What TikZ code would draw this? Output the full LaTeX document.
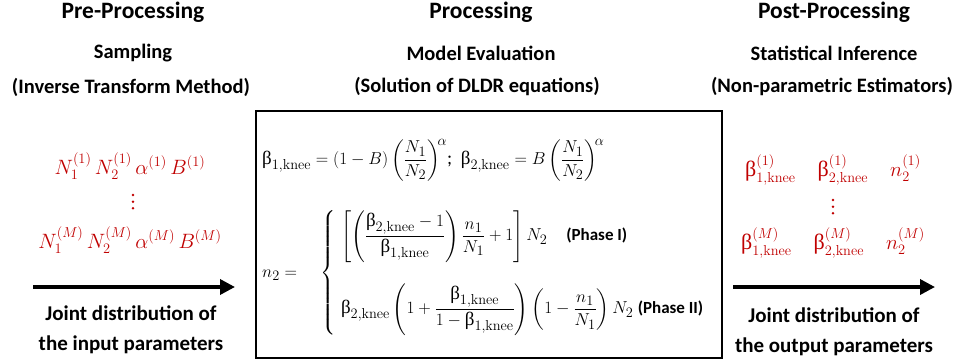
\documentclass[tikz,border=0pt]{standalone}
\usepackage{amsmath}
\usepackage[no-math]{fontspec}
\setmainfont{Carlito}
\newfontfamily\grk{Liberation Serif}
\usetikzlibrary{arrows.meta}
\definecolor{dred}{RGB}{192,0,0}
\newcommand{\bt}{\text{\normalfont\grk β}}
\newcommand{\kn}{\mathrm{knee}}
\newcommand{\ph}[1]{\text{\bfseries\fontsize{17}{19}\selectfont #1}}
\tikzset{
  title/.style={font=\bfseries\fontsize{23.5}{28}\selectfont, inner sep=0pt},
  subtitle/.style={font=\bfseries\fontsize{20.5}{24}\selectfont, inner sep=0pt},
  caption/.style={font=\bfseries\fontsize{21}{30}\selectfont, align=center, inner sep=0pt},
  redmath/.style={text=dred, font=\fontsize{22}{26}\selectfont, inner sep=0pt},
  dot/.style={circle, fill=dred, inner sep=0pt, minimum size=2.8pt},
  boxmath/.style={font=\fontsize{19}{23}\selectfont, inner sep=0pt, anchor=west},
  bigarrow/.style={line width=3.5pt, -{Triangle[length=15pt,width=15pt]}},
  frame/.style={draw, line width=1.8pt, minimum width=466pt, minimum height=247pt, inner sep=0pt, anchor=north west}
}
\begin{document}
\begin{tikzpicture}[x=1pt,y=-1pt]
\useasboundingbox (0,0) rectangle (962,364);
% titles
\node[title] (t1) at (133,12) {Pre-Processing};
\node[title] (t2) at (481,12) {Processing};
\node[title] (t3) at (834,12) {Post-Processing};
\node[subtitle] (s1) at (133,53) {Sampling};
\node[subtitle] (s2) at (481,53) {Model Evaluation};
\node[subtitle] (s3) at (834,53) {Statistical Inference};
\node[subtitle] (u1) at (131,87) {(Inverse Transform Method)};
\node[subtitle] (u2) at (477,87) {(Solution of DLDR equations)};
\node[subtitle] (u3) at (832,87) {(Non-parametric Estimators)};
% box
\node[frame] (box) at (255,110) {};
\node[boxmath] (eq1) at (262,160) {$\bt_{1,\kn} = (1-B)\left(\dfrac{N_1}{N_2}\right)^{\!\alpha}$;\ \ $\bt_{2,\kn} = B\left(\dfrac{N_1}{N_2}\right)^{\!\alpha}$};
\node[boxmath] (eq2) at (262,273) {$n_2 =\quad \left\{\renewcommand{\arraystretch}{1}\begin{array}{@{\;}l@{}}
\left[\left(\dfrac{\bt_{2,\kn}-1}{\bt_{1,\kn}}\right)\dfrac{n_1}{N_1}+1\right]N_2\quad\ph{(Phase I)}\\[36pt]
\bt_{2,\kn}\left(1+\dfrac{\bt_{1,\kn}}{1-\bt_{1,\kn}}\right)\left(1-\dfrac{n_1}{N_1}\right)N_2\ \ph{(Phase II)}
\end{array}\right.$};
% left side
\node[redmath] (l1) at (130,166) {$N_1^{(1)}\,N_2^{(1)}\,\alpha^{(1)}\,B^{(1)}$};
\node[dot] (ld1) at (133,195) {};
\node[dot] (ld2) at (133,201.7) {};
\node[dot] (ld3) at (133,208.3) {};
\node[redmath] (l3) at (130,240) {$N_1^{(M)}\,N_2^{(M)}\,\alpha^{(M)}\,B^{(M)}$};
\coordinate (a1s) at (33,287);
\coordinate (a1e) at (235,287);
\draw[bigarrow] (a1s) -- (a1e);
\node[caption] (c1) at (131,330) {Joint distribution of\\the input parameters};
% right side
\node[redmath] (r1) at (833,170) {$\bt_{1,\kn}^{(1)}\quad\bt_{2,\kn}^{(1)}\quad n_2^{(1)}$};
\node[dot] (rd1) at (833,200) {};
\node[dot] (rd2) at (833,206.7) {};
\node[dot] (rd3) at (833,213.3) {};
\node[redmath] (r3) at (833,243) {$\bt_{1,\kn}^{(M)}\quad\bt_{2,\kn}^{(M)}\quad n_2^{(M)}$};
\coordinate (a2s) at (733,287);
\coordinate (a2e) at (935,287);
\draw[bigarrow] (a2s) -- (a2e);
\node[caption] (c2) at (834,332) {Joint distribution of\\the output parameters};
\end{tikzpicture}
\end{document}
